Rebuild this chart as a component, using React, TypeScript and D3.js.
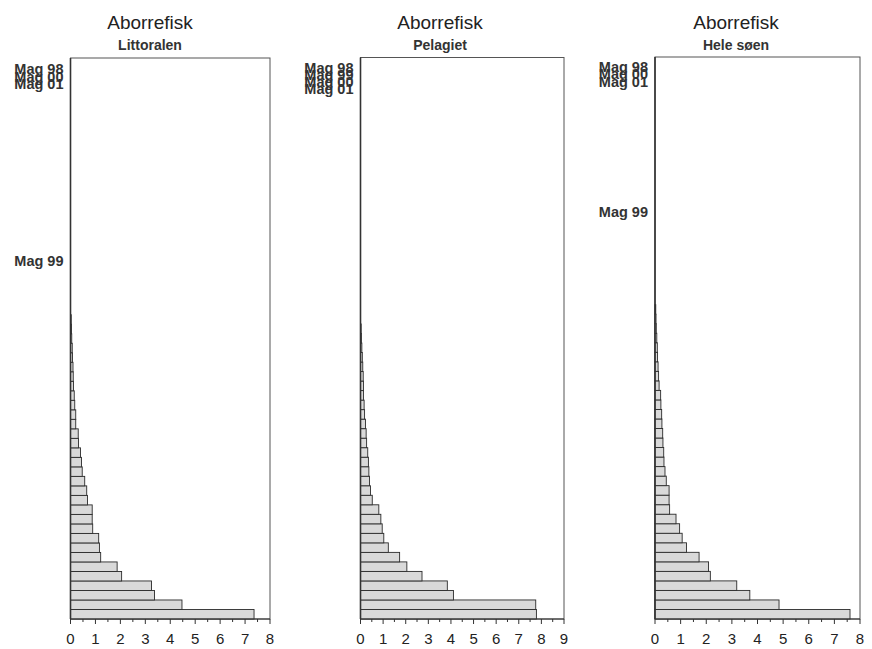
import React from "react";
import * as d3 from "d3";

// ---- data ----
const titles = ["Aborrefisk", "Aborrefisk", "Aborrefisk"];
const subtitles = ["Littoralen", "Pelagiet", "Hele søen"];
const xMaxima = [8, 9, 8];
const rankCount = 59;

// bar values from bottom (largest) upwards
const littoralenValues = [7.36, 4.47, 3.37, 3.25, 2.05, 1.87, 1.21, 1.16, 1.13, 0.89, 0.87, 0.87, 0.68, 0.65, 0.57, 0.47, 0.44, 0.4, 0.32, 0.31, 0.21, 0.21, 0.17, 0.15, 0.12, 0.11, 0.1, 0.08, 0.07, 0.05, 0.04, 0.03];
const pelagietValues = [7.78, 7.75, 4.11, 3.84, 2.72, 2.05, 1.73, 1.23, 1.03, 0.96, 0.9, 0.81, 0.52, 0.44, 0.4, 0.37, 0.35, 0.32, 0.27, 0.25, 0.22, 0.18, 0.16, 0.13, 0.13, 0.12, 0.1, 0.08, 0.06, 0.04, 0.03];
const heleSoenValues = [7.61, 4.84, 3.7, 3.19, 2.16, 2.09, 1.72, 1.23, 1.06, 0.96, 0.82, 0.57, 0.55, 0.55, 0.44, 0.39, 0.35, 0.34, 0.31, 0.3, 0.27, 0.26, 0.23, 0.22, 0.16, 0.14, 0.12, 0.1, 0.09, 0.07, 0.05, 0.04, 0.03];

// y-axis labels and the rank position they sit at
const littoralenLabels = ["Mag 98", "Mag 00", "Mag 01", "Mag 99"];
const littoralenLabelRanks = [57.85, 57.06, 56.27, 37.65];
const pelagietLabels = ["Mag 98", "Mag 99", "Mag 00", "Mag 01"];
const pelagietLabelRanks = [57.95, 57.2, 56.45, 55.7];
const heleSoenLabels = ["Mag 98", "Mag 00", "Mag 01", "Mag 99"];
const heleSoenLabelRanks = [57.95, 57.2, 56.45, 42.8];

const allValues = [littoralenValues, pelagietValues, heleSoenValues];
const allLabels = [littoralenLabels, pelagietLabels, heleSoenLabels];
const allLabelRanks = [littoralenLabelRanks, pelagietLabelRanks, heleSoenLabelRanks];

// ---- layout ----
const W = 872;
const H = 649;
const FONT = "'Liberation Sans', Arial, Helvetica, sans-serif";
const layout = [
  { left: 70.5, right: 270, top: 58, bottom: 619, titleX: 150 },
  { left: 360.5, right: 564, top: 57.5, bottom: 619, titleX: 440 },
  { left: 655, right: 860, top: 57, bottom: 619, titleX: 736 },
];

function Panel({ i }: { i: number }) {
  const L = layout[i];
  const values = allValues[i];
  const x = d3.scaleLinear().domain([0, xMaxima[i]]).range([L.left, L.right]);
  const bw = (L.bottom - L.top) / rankCount;
  const yPos = d3.scaleLinear().domain([0, rankCount]).range([L.bottom, L.top]);
  const majorTicks = d3.range(0, xMaxima[i] + 1, 1);
  const minorTicks = d3.range(0.5, xMaxima[i], 1);
  return (
    <g>
      <text x={L.titleX} y={29} textAnchor="middle" fontSize={19} fill="#222" fontFamily={FONT}>
        {titles[i]}
      </text>
      <text x={L.titleX} y={50} textAnchor="middle" fontSize={14} fontWeight="bold" fill="#333" fontFamily={FONT}>
        {subtitles[i]}
      </text>
      <rect x={L.left} y={L.top} width={L.right - L.left} height={L.bottom - L.top} fill="#fff" stroke="#555" strokeWidth={1} />
      {values.map((v, k) => (
        <rect
          key={k}
          x={x(0)}
          y={yPos(k + 1)}
          width={Math.max(x(v) - x(0), 0.5)}
          height={bw}
          fill="#d9d9d9"
          stroke="#2b2b2b"
          strokeWidth={0.9}
        />
      ))}
      <line x1={L.left} x2={L.left} y1={L.top} y2={L.bottom} stroke="#333" strokeWidth={1.6} />
      <line x1={L.left} x2={L.right} y1={L.bottom} y2={L.bottom} stroke="#333" strokeWidth={1} />
      {majorTicks.map((t) => (
        <g key={"M" + t}>
          <line x1={x(t)} x2={x(t)} y1={L.bottom} y2={L.bottom + 5} stroke="#333" strokeWidth={1} />
          <text x={x(t)} y={644} textAnchor="middle" fontSize={15} fill="#222" fontFamily={FONT}>
            {t}
          </text>
        </g>
      ))}
      {minorTicks.map((t) => (
        <line key={"m" + t} x1={x(t)} x2={x(t)} y1={L.bottom} y2={L.bottom + 3} stroke="#333" strokeWidth={1} />
      ))}
      {allLabels[i].map((lab, k) => (
        <text
          key={k}
          x={L.left - 7}
          y={yPos(allLabelRanks[i][k])}
          dy="0.36em"
          textAnchor="end"
          fontSize={14.5}
          fontWeight="bold"
          fill="#333"
          fontFamily={FONT}
        >
          {lab}
        </text>
      ))}
    </g>
  );
}

export default function App() {
  return (
    <svg
      width={W}
      height={H}
      viewBox={`0 0 ${W} ${H}`}
      style={{ position: "absolute", left: 0, top: 0, display: "block", background: "#fff" }}
    >
      <rect x={0} y={0} width={W} height={H} fill="#fff" />
      {[0, 1, 2].map((i) => (
        <Panel key={i} i={i} />
      ))}
    </svg>
  );
}
